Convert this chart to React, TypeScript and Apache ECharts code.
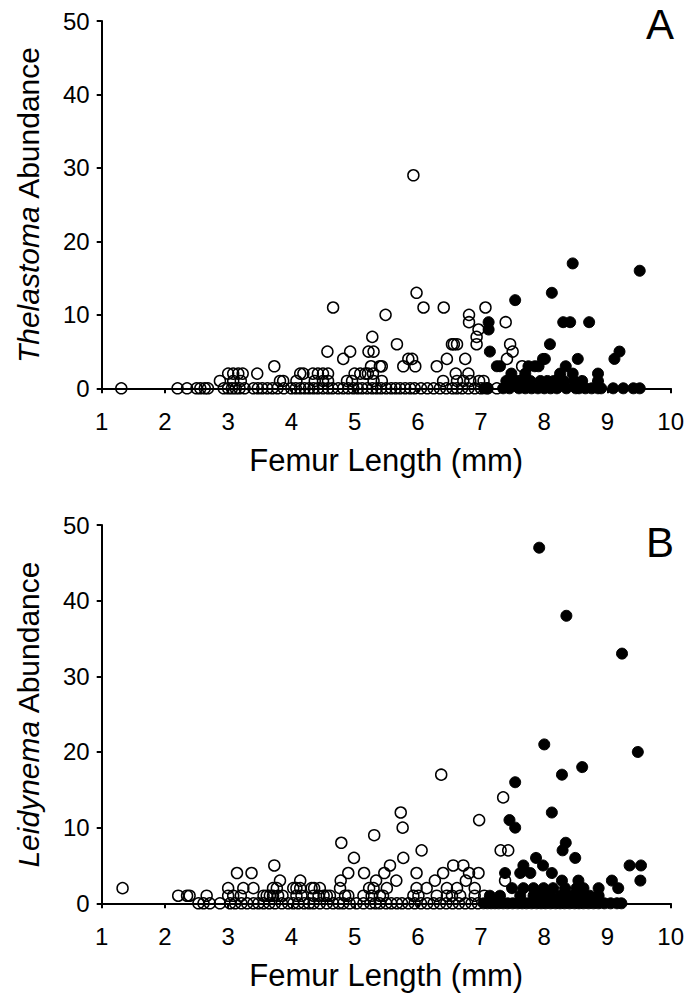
import React, { useEffect, useRef } from "react";
import * as echarts from "echarts";

// Panel A – Thelastoma abundance vs femur length (mm)
const thelastomaOpen: number[][] = [
  [1.31,0],[2.2,0],[2.35,0],[2.5,0],[2.56,0],[2.63,0],[2.68,0],[2.93,0],[3.0,0],[3.06,0],[3.12,0],[3.18,0],[3.26,0],[3.4,0],[3.47,0],[3.54,0],[3.62,0],[3.7,0],[3.78,0],[3.88,0],[4.0,0],[4.07,0],[4.14,0],[4.21,0],[4.28,0],[4.35,0],[4.42,0],[4.5,0],[4.58,0],[4.65,0],[4.74,0],[4.82,0],[4.9,0],[4.98,0],[5.05,0],[5.12,0],[5.2,0],[5.28,0],[5.35,0],[5.42,0],[5.5,0],[5.58,0],[5.65,0],[5.72,0],[5.8,0],[5.88,0],[5.95,0],[6.05,0],[6.15,0],[6.25,0],[6.35,0],[6.45,0],[6.55,0],[6.62,0],[6.7,0],[6.8,0],[6.9,0],[7.0,0],[7.1,0],[7.25,0],
  [2.87,1],[3.08,1],[3.2,1],[3.82,1],[3.87,1],[4.08,1],[4.37,1],[4.5,1],[4.58,1],[4.88,1],[4.96,1],[5.3,1],[5.43,1],[6.4,1],[6.62,1],[6.72,1],[6.83,1],[6.97,1],[7.04,1],[7.62,1],
  [3.0,2],[3.08,2],[3.16,2],[3.23,2],[3.46,2],[4.14,2],[4.19,2],[4.34,2],[4.42,2],[4.5,2],[4.58,2],[5.0,2],[5.09,2],[5.17,2],[5.21,2],[5.29,2],[6.6,2],[6.8,2],
  [3.73,3],[5.26,3],[5.4,3],[5.43,3],[5.77,3],[5.96,3],[6.3,3],[7.65,3],
  [4.82,4],[5.85,4],[5.91,4],[6.46,4],[6.75,4],[7.41,4],
  [4.57,5],[4.93,5],[5.22,5],[5.3,5],[7.5,5],
  [5.67,6],[6.54,6],[6.57,6],[6.62,6],[6.93,6],[7.46,6],
  [5.28,7],[6.93,7],
  [6.96,8],
  [6.81,9],[7.39,9],
  [5.49,10],[6.81,10],
  [4.66,11],[6.09,11],[6.41,11],[7.07,11],
  [5.98,13],
  [5.93,29],
];

const thelastomaFilled: number[][] = [
  [7.05,0],[7.1,0],[7.35,0],[7.45,0],[7.6,0],[7.7,0],[7.8,0],[7.9,0],[8.0,0],[8.1,0],[8.2,0],[8.35,0],[8.5,0],[8.55,0],[8.65,0],[8.75,0],[8.85,0],[8.9,0],[9.09,0],[9.25,0],[9.41,0],[9.51,0],
  [7.4,1],[7.55,1],[7.65,1],[7.78,1],[7.94,1],[8.05,1],[8.15,1],[8.31,1],[8.47,1],[8.6,1],[8.85,1],
  [7.48,2],[7.7,2],[8.25,2],[8.45,2],[8.85,2],
  [7.25,3],[7.3,3],[7.75,3],[7.85,3],[7.91,3],[8.34,3],
  [7.98,4],[8.01,4],[8.53,4],[9.11,4],
  [7.14,5],[9.19,5],
  [8.09,6],
  [7.12,8],
  [7.12,9],[8.3,9],[8.41,9],[8.71,9],
  [7.54,12],
  [8.12,13],
  [9.51,16],
  [8.45,17],
];

// Panel B – Leidynema abundance vs femur length (mm)
const leidynemaOpen: number[][] = [
  [2.53,0],[2.61,0],[2.71,0],[2.87,0],[3.03,0],[3.11,0],[3.21,0],[3.3,0],[3.4,0],[3.48,0],[3.56,0],[3.65,0],[3.74,0],[3.85,0],[3.95,0],[4.03,0],[4.11,0],[4.2,0],[4.28,0],[4.35,0],[4.45,0],[4.56,0],[4.66,0],[4.75,0],[4.82,0],[4.92,0],[5.03,0],[5.14,0],[5.25,0],[5.33,0],[5.4,0],[5.5,0],[5.58,0],[5.67,0],[5.75,0],[5.85,0],[5.95,0],[6.05,0],[6.15,0],[6.25,0],[6.35,0],[6.45,0],[6.55,0],[6.65,0],[6.75,0],[6.85,0],[6.95,0],
  [2.21,1],[2.35,1],[2.39,1],[2.66,1],[3.0,1],[3.08,1],[3.2,1],[3.56,1],[3.61,1],[3.66,1],[3.71,1],[3.79,1],[3.86,1],[4.08,1],[4.16,1],[4.35,1],[4.43,1],[4.51,1],[4.56,1],[4.61,1],[4.85,1],[4.9,1],[5.14,1],[5.27,1],[5.4,1],[5.45,1],[5.93,1],[6.01,1],[6.3,1],[6.46,1],[6.54,1],[6.67,1],[6.9,1],[7.05,1],
  [1.33,2],[3.0,2],[3.24,2],[3.4,2],[3.71,2],[3.77,2],[4.03,2],[4.08,2],[4.14,2],[4.32,2],[4.36,2],[4.45,2],[4.77,2],[5.23,2],[5.3,2],[5.51,2],[5.98,2],[6.14,2],[6.46,2],[6.62,2],[6.9,2],
  [3.82,3],[4.14,3],[4.78,3],[5.34,3],[5.66,3],[6.27,3],[6.76,3],[7.38,3],
  [3.14,4],[3.37,4],[4.9,4],[5.15,4],[5.47,4],[5.98,4],[6.4,4],[6.81,4],[6.96,4],
  [3.73,5],[5.56,5],[6.56,5],[6.72,5],
  [4.99,6],[5.77,6],
  [6.06,7],[7.31,7],[7.43,7],
  [4.79,8],
  [5.31,9],
  [5.76,10],
  [6.97,11],
  [5.73,12],
  [7.35,14],
  [6.37,17],
];

const leidynemaFilled: number[][] = [
  [7.04,0],[7.1,0],[7.16,0],[7.22,0],[7.28,0],[7.35,0],[7.42,0],[7.5,0],[7.58,0],[7.65,0],[7.72,0],[7.8,0],[7.88,0],[7.95,0],[8.02,0],[8.1,0],[8.18,0],[8.25,0],[8.32,0],[8.4,0],[8.48,0],[8.55,0],[8.62,0],[8.7,0],[8.78,0],[8.86,0],[8.95,0],[9.05,0],[9.15,0],[9.22,0],
  [7.14,1],[7.3,1],[7.62,1],[7.83,1],[7.93,1],[8.09,1],[8.25,1],[8.41,1],[8.57,1],[8.72,1],[8.86,1],
  [7.49,2],[7.67,2],[7.83,2],[7.99,2],[8.14,2],[8.33,2],[8.51,2],[8.62,2],[8.86,2],[9.17,2],
  [8.28,3],[8.54,3],[9.07,3],[9.52,3],
  [7.38,4],[7.62,4],[7.78,4],[8.12,4],
  [7.67,5],[7.98,5],[9.35,5],[9.53,5],
  [7.87,6],[8.49,6],
  [8.29,7],
  [8.34,8],
  [7.54,10],
  [7.45,11],
  [8.12,12],
  [7.54,16],
  [8.28,17],
  [8.6,18],
  [9.48,20],
  [8.0,21],
  [9.23,33],
  [8.35,38],
  [7.92,47],
];

const panelLetters = ["A", "B"];
const yTitles = ["{i|Thelastoma} Abundance", "{i|Leidynema} Abundance"];
const xTitle = "Femur Length (mm)";

const FONT = "'Liberation Sans', Arial, Helvetica, sans-serif";

export default function App() {
  const ref = useRef<HTMLDivElement>(null);
  useEffect(() => {
    if (!ref.current) return;
    const chart = echarts.init(ref.current, undefined, { renderer: "svg" });
    const grids = [
      { left: 101.7, right: 28.3, top: 21, height: 367.3 },
      { left: 101.7, right: 28.3, top: 525, height: 378.3 },
    ];
    const axisLine = { show: true, onZero: false, lineStyle: { color: "#000", width: 2 } };
    const axisTick = { show: true, inside: false, length: 5, lineStyle: { color: "#000", width: 2 } };
    const xAxes = grids.map((_, i) => ({
      type: "value",
      gridIndex: i,
      min: 1,
      max: 10,
      interval: 1,
      axisLine,
      axisTick,
      splitLine: { show: false },
      axisLabel: { color: "#000", fontSize: 24, fontFamily: FONT, margin: 21 },
      name: xTitle,
      nameLocation: "middle",
      nameGap: 57,
      nameTextStyle: { color: "#000", fontSize: 31, fontFamily: FONT },
    }));
    const yAxes = grids.map((_, i) => ({
      type: "value",
      gridIndex: i,
      min: 0,
      max: 50,
      interval: 10,
      axisLine,
      axisTick,
      splitLine: { show: false },
      axisLabel: { color: "#000", fontSize: 24, fontFamily: FONT, margin: 12 },
      name: yTitles[i],
      nameLocation: "middle",
      nameGap: 58,
      nameTextStyle: {
        color: "#000",
        fontSize: 30,
        fontFamily: FONT,
        rich: { i: { fontStyle: "italic", fontSize: 30, fontFamily: FONT, color: "#000" } },
      },
    }));
    const openStyle = { color: "rgba(0,0,0,0)", borderColor: "#000", borderWidth: 1.5, opacity: 1 };
    const filledStyle = { color: "#000", borderColor: "#000", borderWidth: 1, opacity: 1 };
    const mk = (data: number[][], idx: number, style: any) => ({
      type: "scatter",
      xAxisIndex: idx,
      yAxisIndex: idx,
      data,
      symbol: "circle",
      symbolSize: 11,
      itemStyle: style,
      silent: true,
    });
    chart.setOption({
      animation: false,
      backgroundColor: "#fff",
      grid: grids,
      xAxis: xAxes,
      yAxis: yAxes,
      series: [
        mk(thelastomaOpen, 0, openStyle),
        mk(thelastomaFilled, 0, filledStyle),
        mk(leidynemaOpen, 1, openStyle),
        mk(leidynemaFilled, 1, filledStyle),
      ],
      graphic: [
        {
          type: "text",
          x: 660,
          y: 24,
          style: { text: panelLetters[0], fill: "#000", font: `42px ${FONT}`, textAlign: "center", textVerticalAlign: "middle" },
        },
        {
          type: "text",
          x: 660,
          y: 542,
          style: { text: panelLetters[1], fill: "#000", font: `42px ${FONT}`, textAlign: "center", textVerticalAlign: "middle" },
        },
      ],
    });
    return () => chart.dispose();
  }, []);
  return (
    <div
      ref={ref}
      style={{ position: "fixed", left: 0, top: 0, width: 699, height: 995, background: "#fff" }}
    />
  );
}
